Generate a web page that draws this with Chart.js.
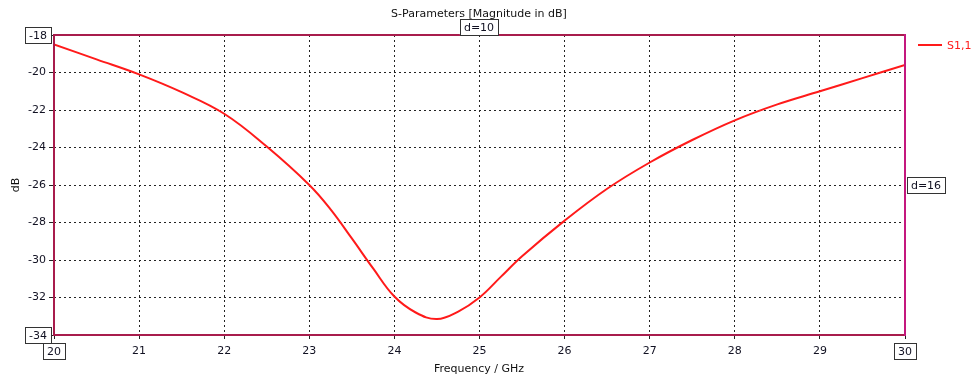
<!DOCTYPE html>
<html>
<head>
<meta charset="utf-8">
<script src="https://cdn.jsdelivr.net/npm/chart.js@4.4.0/dist/chart.umd.min.js"></script>
<style>
  body { margin: 0; background: #fff; }
  #wrap { width: 971px; height: 378px; position: relative; }
</style>
</head>
<body>
<div id="wrap"><canvas id="sparam"></canvas></div>
<script>
// S1,1 magnitude
const freqs = [20, 20.5, 21, 21.5, 22, 22.5, 23, 23.25, 23.5, 23.75, 24, 24.25, 24.5, 24.75, 25, 25.25, 25.5, 26, 26.5, 27, 27.5, 28, 28.5, 29, 29.5, 30];
const s11 = [-18.5, -19.3, -20.1, -21.05, -22.2, -23.95, -26.0, -27.3, -28.85, -30.45, -31.95, -32.8, -33.15, -32.75, -32.0, -30.9, -29.8, -27.9, -26.2, -24.8, -23.6, -22.55, -21.7, -21.0, -20.3, -19.6];
const xTicks = [20, 21, 22, 23, 24, 25, 26, 27, 28, 29, 30];
const yTicks = [-18, -20, -22, -24, -26, -28, -30, -32, -34];
const markers = [{ text: "d=10", where: "top" }, { text: "d=16", where: "right" }];

const FONT = "DejaVu Sans";
const tickColor = "#111122";

// boxes around end tick labels, frame, title, legend, d= markers
const decorations = {
    id: "decorations",
    afterDraw(chart) {
        const ctx = chart.ctx;
        const a = chart.chartArea;
        const xs = chart.scales.x, ys = chart.scales.y;
        ctx.save();

        // plot frame
        ctx.lineWidth = 2;
        ctx.strokeStyle = "#a81c4c";
        ctx.beginPath();
        ctx.moveTo(a.right, a.top);
        ctx.lineTo(a.left, a.top);
        ctx.lineTo(a.left, a.bottom);
        ctx.lineTo(a.right, a.bottom);
        ctx.stroke();
        ctx.strokeStyle = "#c4187e";
        ctx.beginPath();
        ctx.moveTo(a.right, a.top - 1);
        ctx.lineTo(a.right, a.bottom + 1);
        ctx.stroke();

        ctx.font = "11px '" + FONT + "'";
        ctx.textBaseline = "middle";
        ctx.lineWidth = 1;
        ctx.strokeStyle = "#333";

        const box = (txt, cx, cy) => {
            const w = ctx.measureText(txt).width + 8;
            ctx.fillStyle = "#fff";
            ctx.fillRect(cx - w / 2, cy - 8, w, 16);
            ctx.strokeRect(Math.round(cx - w / 2) + 0.5, Math.round(cy - 8) + 0.5, Math.round(w), 16);
            ctx.fillStyle = tickColor;
            ctx.textAlign = "center";
            ctx.fillText(txt, cx, cy + 1);
        };

        // boxed end labels
        box(String(yTicks[0]), 38, ys.getPixelForValue(yTicks[0]));
        box(String(yTicks[yTicks.length - 1]), 38, ys.getPixelForValue(yTicks[yTicks.length - 1]));
        box(String(xTicks[0]), xs.getPixelForValue(xTicks[0]), a.bottom + 16);
        box(String(xTicks[xTicks.length - 1]), xs.getPixelForValue(xTicks[xTicks.length - 1]), a.bottom + 16);

        // title
        ctx.fillStyle = "#111";
        ctx.textAlign = "center";
        ctx.fillText("S-Parameters [Magnitude in dB]", 479, 14);

        // d= markers
        markers.forEach(m => {
            if (m.where === "top") box(m.text, 479, a.top - 8);
            else box(m.text, a.right + 21, 185);
        });

        // legend
        ctx.strokeStyle = "#ff1a1a";
        ctx.lineWidth = 2;
        ctx.beginPath();
        ctx.moveTo(918, 45);
        ctx.lineTo(942, 45);
        ctx.stroke();
        ctx.fillStyle = "#ff1a1a";
        ctx.textAlign = "left";
        ctx.fillText("S1,1", 947, 46);

        // axis titles
        ctx.fillStyle = "#111";
        ctx.textAlign = "center";
        ctx.fillText("Frequency / GHz", 479, 369);
        ctx.translate(16, 185);
        ctx.rotate(-Math.PI / 2);
        ctx.fillText("dB", 0, 0);
        ctx.restore();
    }
};

new Chart(document.getElementById("sparam"), {
    type: "line",
    data: {
        datasets: [{
            label: "S1,1",
            data: freqs.map((f, i) => ({ x: f, y: s11[i] })),
            borderColor: "#ff1a1a",
            borderWidth: 2,
            pointRadius: 0,
            tension: 0.4,
            fill: false,
        }],
    },
    options: {
        responsive: true,
        maintainAspectRatio: false,
        animation: false,
        layout: { padding: { left: 0, right: 66, top: 35, bottom: 0 } },
        plugins: {
            legend: { display: false },
            tooltip: { enabled: false },
        },
        scales: {
            x: {
                type: "linear",
                min: 20,
                max: 30,
                afterBuildTicks(scale) { scale.ticks = xTicks.map(v => ({ value: v })); },
                afterFit(scale) { scale.height = 43; },
                ticks: {
                    color: tickColor,
                    font: { family: FONT, size: 11 },
                    padding: 6,
                    maxRotation: 0,
                    callback: (v) => (v === xTicks[0] || v === xTicks[xTicks.length - 1]) ? "" : v,
                },
                grid: { color: "#222", lineWidth: 1, tickLength: 4, drawOnChartArea: true },
                border: { display: false, dash: [2, 3] },
            },
            y: {
                min: -34,
                max: -18,
                afterBuildTicks(scale) { scale.ticks = yTicks.map(v => ({ value: v })); },
                afterFit(scale) { scale.width = 54; },
                ticks: {
                    color: tickColor,
                    font: { family: FONT, size: 11 },
                    padding: 3,
                    callback: (v) => (v === yTicks[0] || v === yTicks[yTicks.length - 1]) ? "" : v,
                },
                grid: { color: "#222", lineWidth: 1, tickLength: 5 },
                border: { display: false, dash: [2, 3] },
            },
        },
    },
    plugins: [decorations],
});
</script>
</body>
</html>
